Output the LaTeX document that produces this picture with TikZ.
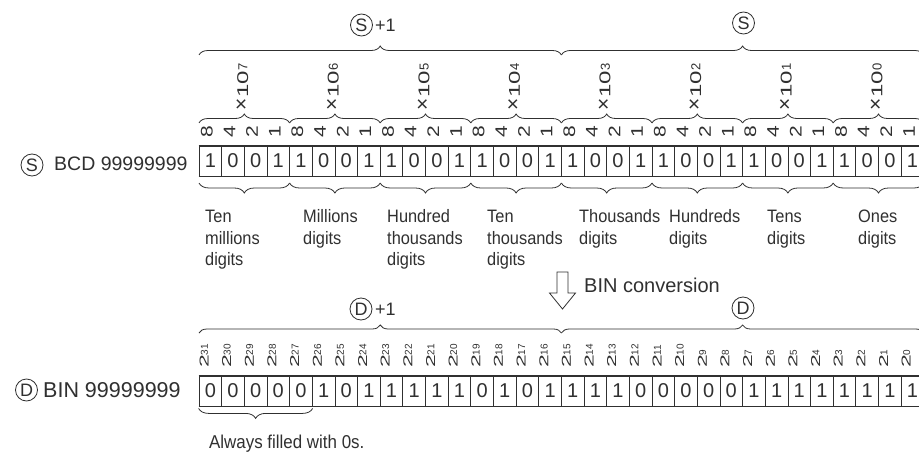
\documentclass[tikz,border=0pt]{standalone}
\usepackage{fontspec}
\setmainfont{Liberation Sans}
\newfontfamily\lblfont[FakeStretch=0.91]{Liberation Sans}
\usetikzlibrary{decorations.pathreplacing}
\definecolor{ink}{HTML}{303030}
\newcommand\myfs[1]{\fontsize{#1}{#1}\selectfont}
\tikzset{
  cellbox/.style={draw=ink, line width=0.8pt, minimum width=22.65pt, minimum height=30pt, inner sep=0pt, font=\myfs{20}},
  circlab/.style={circle, draw=ink, line width=0.8pt, minimum size=22pt, inner sep=0pt, font=\myfs{18}},
  bracestyle/.style={draw=ink, line width=0.8pt, decorate, decoration={brace, amplitude=#1}},
  digitlab/.style={anchor=base west, align=left, font={\lblfont\fontsize{18}{21.5}\selectfont}},
}
\begin{document}
\begin{tikzpicture}[x=1pt, y=-1pt, every node/.style={text=ink, inner sep=0pt}]
\useasboundingbox (0,0) rectangle (919,452);
\fill[white] (0,0) rectangle (919,452);

% ---------- BCD row ----------
\foreach \b [count=\i from 0] in {1,0,0,1,1,0,0,1,1,0,0,1,1,0,0,1,1,0,0,1,1,0,0,1,1,0,0,1,1,0,0,1}
  \node[cellbox] (s\i) at ({199+(\i+0.5)*22.65},161) {\b};
\draw[ink, line width=1.6pt] (s0.north west) -- (s31.north east);
\draw[ink, line width=1.6pt] (s0.south west) -- (s31.south east);

\foreach \w [count=\i from 0] in {8,4,2,1,8,4,2,1,8,4,2,1,8,4,2,1,8,4,2,1,8,4,2,1,8,4,2,1,8,4,2,1}
  \node[rotate=90, font=\myfs{21}] (w\i) at ({199+(\i+0.5)*22.65-3.5},132) {\scalebox{1}[0.8]{\w}};

\foreach \k [count=\i from 0] in {7,6,5,4,3,2,1,0}
  \node[rotate=90, anchor=west] (x\i) at ({199+(4*\i+2)*22.65-2},111)
    {{\myfs{21}×}\kern1pt\scalebox{1}[0.65]{\myfs{24}10}\raisebox{0.7pt}{\myfs{13}\k}};

\foreach \i in {0,...,7} {
  \draw[bracestyle=9pt] ({199+4*\i*22.65},123) -- ({199+4*(\i+1)*22.65},123);
  \draw[bracestyle=10pt] ({199+4*(\i+1)*22.65},183) -- ({199+4*\i*22.65},183);
}

% top braces
\draw[bracestyle=9pt] (199,55) -- ({199+16*22.65},55);
\draw[bracestyle=9pt] ({199+16*22.65},55) -- ({199+32*22.65},55);
\node[circlab] (sa) at (361.5,25) {S};
\node[anchor=west, font=\myfs{18}] (sap) at (375,25) {+1};
\node[circlab] (sb) at (743.5,23) {S};

% left label
\node[circlab] (sl) at (32,165) {S};
\node[anchor=base west, font=\myfs{19.5}] (bcd) at (54,170.5) {BCD 99999999};

% digit labels (anchor = baseline of last line)
\node[digitlab] (l0) at (205,265.7) {Ten\\millions\\digits};
\node[digitlab] (l1) at (303,244.2) {Millions\\digits};
\node[digitlab] (l2) at (387,265.7) {Hundred\\thousands\\digits};
\node[digitlab] (l3) at (487,265.7) {Ten\\thousands\\digits};
\node[digitlab] (l4) at (579,244.2) {Thousands\\digits};
\node[digitlab] (l5) at (669,244.2) {Hundreds\\digits};
\node[digitlab] (l6) at (767,244.2) {Tens\\digits};
\node[digitlab] (l7) at (858,244.2) {Ones\\digits};

% conversion arrow
\draw[ink, line width=0.8pt, fill=white] (557,272) -- (568,272) -- (568,293) -- (575.5,293) -- (562.5,309) -- (549.5,293) -- (557,293) -- cycle;
\node[anchor=base west, font=\myfs{20}] (conv) at (584,292.7) {BIN conversion};

% ---------- BIN row ----------
\draw[bracestyle=8pt] (199,333) -- ({199+16*22.65},333);
\draw[bracestyle=8pt] ({199+16*22.65},333) -- ({199+32*22.65},333);
\node[circlab] (da) at (361,309) {D};
\node[anchor=west, font=\myfs{18}] (dap) at (375,309) {+1};
\node[circlab] (db) at (743,308) {D};

\foreach \i in {0,...,31} {
  \pgfmathtruncatemacro{\e}{31-\i}
  \node[rotate=90, anchor=base west] (e\i) at ({199+(\i+0.5)*22.65-1.8},368)
    {\scalebox{1}[0.56]{\myfs{23}2}\raisebox{0.6pt}{\myfs{10}\e}};
}

\foreach \b [count=\i from 0] in {0,0,0,0,0,1,0,1,1,1,1,1,0,1,0,1,1,1,1,0,0,0,0,0,1,1,1,1,1,1,1,1}
  \node[cellbox] (b\i) at ({199+(\i+0.5)*22.65},391) {\b};
\draw[ink, line width=1.6pt] (b0.north west) -- (b31.north east);
\draw[ink, line width=1.6pt] (b0.south west) -- (b31.south east);

\node[circlab] (dl) at (26.5,390) {D};
\node[anchor=base west, font=\myfs{21.5}] (bin) at (43,397) {BIN 99999999};

\coordinate (ae) at ([yshift=-2pt]b4.south east);
\coordinate (aw) at ([yshift=-2pt]b0.south west);
\draw[bracestyle=10pt] (ae) -- (aw);
\node[anchor=base west, font={\lblfont\myfs{18.6}}] (always) at (209,448) {Always filled with 0s.};
\end{tikzpicture}
\end{document}
